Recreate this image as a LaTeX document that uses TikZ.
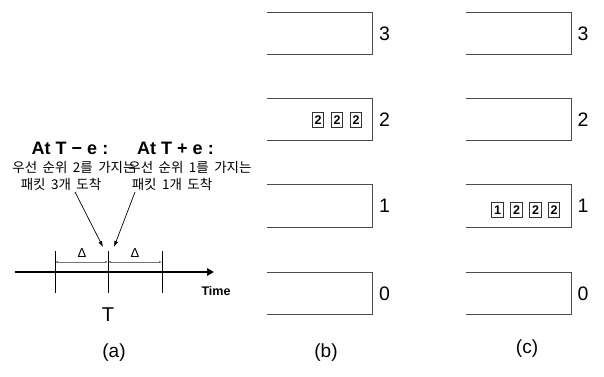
\documentclass[tikz,border=0pt]{standalone}
\usepackage{fontspec}
\setmainfont{Liberation Sans}
\newfontfamily\kr[WordSpace=1.8]{Noto Sans CJK KR}
\usetikzlibrary{arrows.meta}
\begin{document}
\begin{tikzpicture}[x=1pt,y=-1pt,
  qline/.style={draw=black!70, line width=0.8pt},
  pkt/.style={draw=black!80, line width=0.6pt, minimum width=11.5pt, minimum height=15.5pt, inner sep=0pt, font=\bfseries\fontsize{12.5}{12.5}\selectfont},
  qlab/.style={font=\fontsize{19.5}{19.5}\selectfont, inner sep=0pt},
  caplab/.style={font=\fontsize{19}{19}\selectfont, inner sep=0pt},
  head/.style={font=\bfseries\fontsize{18}{18}\selectfont, inner sep=0pt},
  kor/.style={font=\kr\fontsize{13.5}{13.5}\selectfont, inner sep=0pt},
  tick/.style={draw=black, line width=0.7pt},
  dim/.style={draw=black!55, line width=0.6pt, {Latex[length=3pt,width=2.5pt]}-{Latex[length=3pt,width=2.5pt]}},
  point/.style={draw=black, line width=0.7pt, -{Latex[length=6pt,width=4pt]}}
]
\useasboundingbox (0,0) rectangle (604,376);

% queues
\foreach \x/\c in {267/b,465.5/c}{
  \foreach \k/\yt in {3/12,2/98,1/184.5,0/272}{
    \draw[qline] (\x,\yt) -| (\x+105.5,\yt+42.5) -- (\x,\yt+42.5);
    \node[qlab] (q\c\k) at (\x+117.5,\yt+21.5) {\k};
  }
}

% packets (b)
\node[pkt] (pb1) at (318,120) {2};
\node[pkt] (pb2) at (337,120) {2};
\node[pkt] (pb3) at (356,120) {2};
% packets (c)
\node[pkt] (pc1) at (497.5,210) {1};
\node[pkt] (pc2) at (516.5,210) {2};
\node[pkt] (pc3) at (535.5,210) {2};
\node[pkt] (pc4) at (554,210) {2};

% timeline
\coordinate (t0) at (15,272);
\coordinate (t1) at (214,272);
\draw[line width=2.2pt, -{Triangle[length=7pt,width=7.5pt]}] (t0) -- (t1);
\coordinate (kLa) at (55,251);  \coordinate (kLb) at (55,293);
\coordinate (kMa) at (108,251); \coordinate (kMb) at (108,293);
\coordinate (kRa) at (162,251); \coordinate (kRb) at (162,293);
\draw[tick] (kLa) -- (kLb);
\draw[tick] (kMa) -- (kMb);
\draw[tick] (kRa) -- (kRb);
\coordinate (dL) at (55,262); \coordinate (dM) at (108,262); \coordinate (dR) at (162,262);
\draw[dim] (dL) -- (dM);
\draw[dim] (dM) -- (dR);
\node[font=\fontsize{13}{13}\selectfont, inner sep=0pt] (d1) at (82,253) {Δ};
\node[font=\fontsize{13}{13}\selectfont, inner sep=0pt] (d2) at (135,253) {Δ};
\node[font=\bfseries\fontsize{12.5}{12.5}\selectfont, inner sep=0pt] (time) at (216,291) {Time};
\node[font=\fontsize{20}{20}\selectfont, inner sep=0pt] (T) at (108,315) {T};

% headings and Korean text
\node[head] (hA) at (70,148) {At T − e :};
\node[head] (hB) at (175.5,148) {At T + e :};
\node[kor] (kA1) at (74,167) {우선 순위 2를 가지는};
\node[kor] (kA2) at (61,184.5) {패킷 3개 도착};
\node[kor] (kB1) at (190,167) {우선 순위 1를 가지는};
\node[kor] (kB2) at (172,184.5) {패킷 1개 도착};

\coordinate (aA) at (75,192);
\coordinate (aB) at (135,192);
\coordinate (tA) at (103,247);
\coordinate (tB) at (114,247);
\draw[point] (aA) -- (tA);
\draw[point] (aB) -- (tB);

% captions
\node[caplab] (ca) at (114,353) {(a)};
\node[caplab] (cb) at (326,353) {(b)};
\node[caplab] (cc) at (527,349) {(c)};
\end{tikzpicture}
\end{document}
